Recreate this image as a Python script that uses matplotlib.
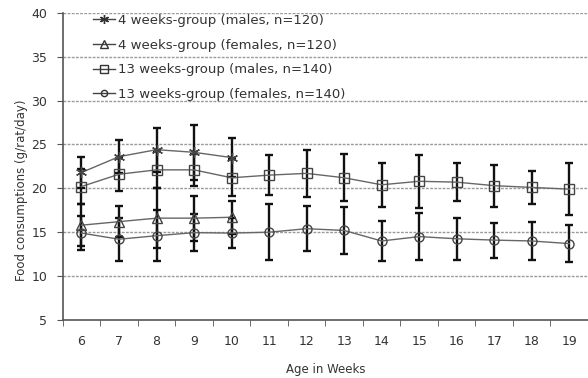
import matplotlib
matplotlib.use("Agg")
import matplotlib.pyplot as plt
from matplotlib.lines import Line2D

plt.rcParams['font.family'] = ['DejaVu Sans']

weeks_4 = [6, 7, 8, 9, 10]
weeks_13 = [6, 7, 8, 9, 10, 11, 12, 13, 14, 15, 16, 17, 18, 19]
x_labels = [str(w) for w in range(6, 20)]

m4_mean = [21.8, 23.6, 24.4, 24.1, 23.5]
m4_sd = [1.8, 1.9, 2.5, 3.1, 2.2]

f4_mean = [15.8, 16.2, 16.6, 16.6, 16.7]
f4_sd = [2.4, 1.8, 3.4, 2.55, 1.9]

m13_mean = [20.2, 21.6, 22.1, 22.1, 21.2, 21.5, 21.7, 21.2, 20.4, 20.8, 20.7, 20.3, 20.1, 19.9]
m13_sd = [2.0, 1.9, 2.1, 1.8, 2.1, 2.3, 2.7, 2.7, 2.5, 3.0, 2.2, 2.4, 1.9, 2.95]

f13_mean = [14.9, 14.2, 14.6, 14.95, 14.9, 15.0, 15.4, 15.2, 14.0, 14.5, 14.25, 14.1, 14.0, 13.7]
f13_sd = [1.9, 2.45, 2.9, 2.1, 1.7, 3.2, 2.55, 2.65, 2.3, 2.7, 2.4, 2.0, 2.15, 2.1]

labels = ["4 weeks-group (males, n=120)",
          "4 weeks-group (females, n=120)",
          "13 weeks-group (males, n=140)",
          "13 weeks-group (females, n=140)"]

fig = plt.figure(figsize=(5.88, 3.78), dpi=100)
ax = fig.add_axes([62.7 / 588, 1 - 320 / 378, 1 - 62.7 / 588, (320 - 12.7) / 378])

star = (6, 2, 0)
series = [
    (weeks_4, m4_mean, m4_sd, star, 8, 6.5),
    (weeks_4, f4_mean, f4_sd, '^', 7, 5.5),
    (weeks_13, m13_mean, m13_sd, 's', 7.5, 5.5),
    (weeks_13, f13_mean, f13_sd, 'o', 6.5, 4.5),
]

handles = []
for (xs, ys, sd, mk, ms, lms), lab in zip(series, labels):
    ax.errorbar(xs, ys, yerr=sd, fmt='none', ecolor='#111111', elinewidth=1.7,
                capsize=2.7, capthick=1.7, zorder=3)
    ax.plot(xs, ys, color='#666666', lw=1.0, marker=mk, ms=ms,
            mfc='none', mec='#444444', mew=1.0, zorder=4)
    handles.append(Line2D([], [], color='#444444', lw=1.0, marker=mk, ms=lms,
                          mfc='none', mec='#333333', mew=1.0))

ax.set_ylim(5, 40)
ax.set_xlim(5.5, 19.5 - 2.5 / 37.7)
ax.set_yticks(range(5, 41, 5))
ax.set_xticks(range(6, 20))
ax.set_xticklabels(x_labels)
ax.set_xticks([w + 0.5 for w in range(5, 20)], minor=True)
ax.tick_params(axis='x', which='major', length=0, pad=11, labelsize=9, labelcolor='#333333')
ax.tick_params(axis='x', which='minor', length=4, direction='out', color='#555555')
ax.tick_params(axis='y', length=4, direction='out', color='#555555', labelsize=9,
               labelcolor='#333333', pad=7)

for v in range(10, 41, 5):
    ax.axhline(v, color='#9a9a9a', lw=1.0, ls=(0, (2, 1)), zorder=1)

for s in ['top', 'right']:
    ax.spines[s].set_visible(False)
for s in ['left', 'bottom']:
    ax.spines[s].set_color('#555555')
    ax.spines[s].set_linewidth(1.2)

ax.set_ylabel("Food consumptions (g/rat/day)", fontsize=8.5, color='#333333')
ax.yaxis.set_label_coords((22 - 62.7) / 525.3, (320 - 190) / 307.3)
ax.set_xlabel("Age in Weeks", fontsize=8.5, color='#333333')
ax.xaxis.set_label_coords(0.5, -(370 - 320) / 307.3)
ax.xaxis.label.set_va('center')
ax.yaxis.label.set_va('center')

leg = ax.legend(handles, labels, loc='upper left',
                bbox_to_anchor=((93 - 62.7) / 525.3, (320 - 14) / 307.3),
                frameon=False, fontsize=9.5, labelspacing=0.88, handlelength=1.7,
                handletextpad=0.2, borderaxespad=0, borderpad=0)
for t in leg.get_texts():
    t.set_color('#333333')

fig.savefig("out.png", dpi=100)
